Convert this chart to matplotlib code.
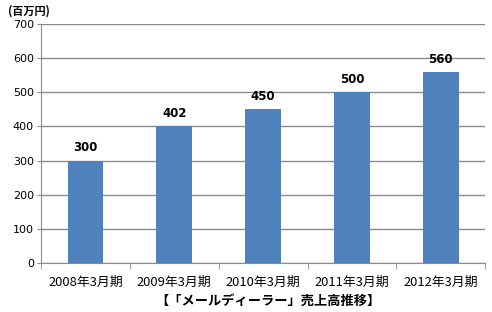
import matplotlib
matplotlib.use("Agg")
import matplotlib.pyplot as plt

plt.rcParams['font.family'] = ['Noto Sans CJK JP', 'DejaVu Sans']

categories = ["2008年3月期", "2009年3月期", "2010年3月期", "2011年3月期", "2012年3月期"]
values = [300, 402, 450, 500, 560]
yticks = [0, 100, 200, 300, 400, 500, 600, 700]

BAR = "#4F81BD"
GRID = "#8c8c8c"

fig = plt.figure(figsize=(4.92, 3.12), dpi=100, facecolor="white")
ax = fig.add_axes([0.0833, 0.157, 0.903, 0.766])

x = list(range(len(categories)))
ax.bar(x, values, width=0.4, color=BAR, zorder=3)
for xi, v in zip(x, values):
    ax.text(xi, v + 18, f"{v}", ha="center", va="bottom", fontsize=8.5,
            fontweight="bold", color="black", family="DejaVu Sans")

ax.set_xlim(-0.5, len(categories) - 0.5)
ax.set_ylim(0, 700)
ax.set_yticks(yticks)
ax.set_yticklabels([str(t) for t in yticks], fontsize=8, family="DejaVu Sans")
ax.yaxis.grid(True, color=GRID, linewidth=1.0, zorder=0)
ax.set_axisbelow(True)

ax.set_xticks(x)
ax.set_xticklabels(categories, fontsize=9.3)
ax.tick_params(axis="x", length=0, pad=9)
ax.set_xticks([i - 0.5 for i in range(len(categories) + 1)], minor=True)
ax.tick_params(axis="x", which="minor", length=4, color=GRID)
ax.tick_params(axis="y", length=3, color=GRID, pad=2)

for s in ["top", "right"]:
    ax.spines[s].set_visible(False)
ax.spines["left"].set_color(GRID)
ax.spines["bottom"].set_color(GRID)

fig.text(0.016, 0.965, "(百万円)", fontsize=8, fontweight="bold", ha="left", va="center")
fig.text(0.545, 0.035, "【「メールディーラー」売上高推移】", fontsize=9.5, fontweight="bold",
         ha="center", va="center")

fig.savefig("out.png", dpi=100, facecolor="white")
